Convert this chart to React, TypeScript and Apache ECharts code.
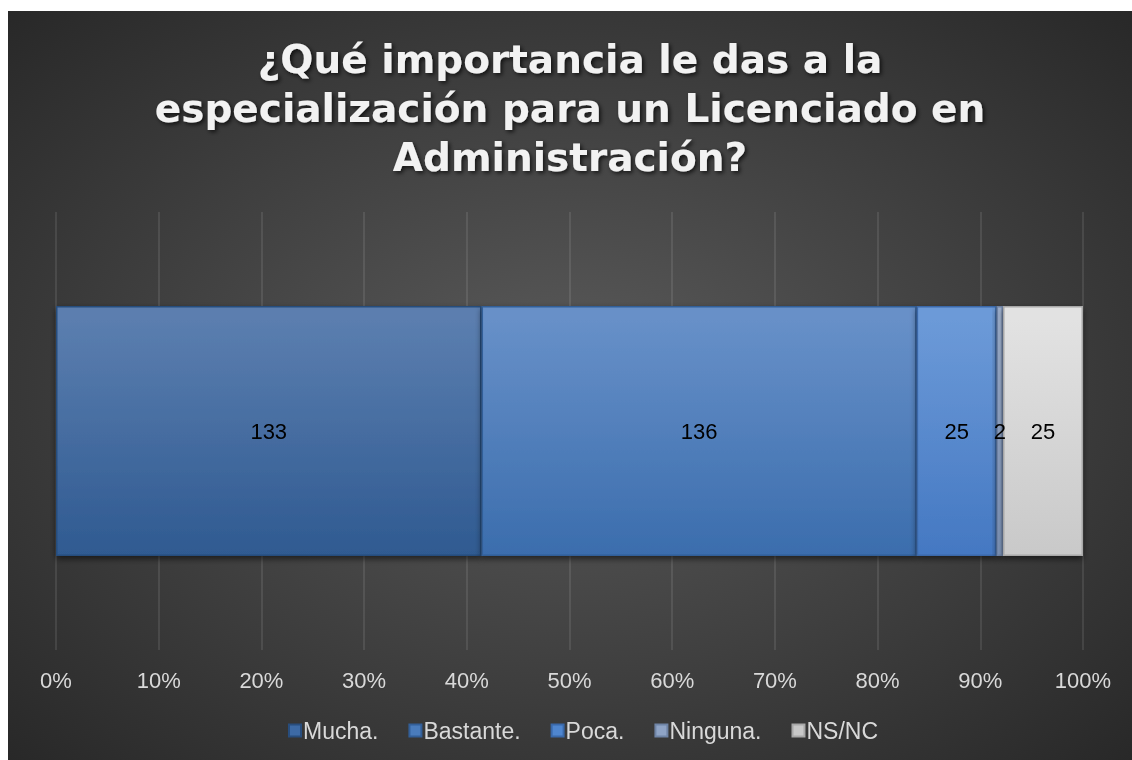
import React, { useEffect, useRef } from "react";
import * as echarts from "echarts";

const titleLines = [
  "¿Qué importancia le das a la",
  "especialización para un Licenciado en",
  "Administración?",
];
const category = ["Importancia"];
const seriesNames = ["Mucha.", "Bastante.", "Poca.", "Ninguna.", "NS/NC"];
const seriesCounts = [133, 136, 25, 2, 25];
const seriesTop = ["#5b7eaf", "#6790c8", "#6c9ad8", "#a2b3cf", "#e2e2e2"];
const seriesBottom = ["#2f5a91", "#3b6dad", "#4478c2", "#7f95b9", "#c9c9c9"];
const seriesBorder = ["#284d7d", "#335f98", "#3a69aa", "#6f84a6", "#a8a8a8"];
const legendColors = ["#3d6aa5", "#4a7cbc", "#4f86cf", "#8fa4c6", "#c8c8c8"];
const tickValues = [0, 10, 20, 30, 40, 50, 60, 70, 80, 90, 100];

export default function App() {
  const ref = useRef<HTMLDivElement>(null);
  useEffect(() => {
    if (!ref.current) return;
    const chart = echarts.init(ref.current, null, { renderer: "svg" });
    const total = seriesCounts.reduce((a, b) => a + b, 0);
    const series = seriesNames.map((name, i) => ({
      name,
      type: "bar",
      stack: "total",
      barWidth: 250,
      data: [(seriesCounts[i] / total) * 100],
      itemStyle: {
        color: new echarts.graphic.LinearGradient(0, 0, 0, 1, [
          { offset: 0, color: seriesTop[i] },
          { offset: 0.05, color: seriesTop[i] },
          { offset: 1, color: seriesBottom[i] },
        ]),
        borderColor: seriesBorder[i],
        borderWidth: 1.5,
        shadowColor: "rgba(0,0,0,0.55)",
        shadowBlur: 6,
        shadowOffsetY: 3,
      },
      label: {
        show: true,
        position: "inside",
        color: "#000",
        fontSize: 22,
        fontFamily: "Liberation Sans, Arial, sans-serif",
        formatter: () => String(seriesCounts[i]),
      },
      emphasis: { disabled: true },
    }));
    chart.setOption({
      animation: false,
      backgroundColor: new echarts.graphic.RadialGradient(0.5, 0.5, 0.75, [
        { offset: 0, color: "#5b5b5b" },
        { offset: 1, color: "#252525" },
      ]),
      title: {
        text: titleLines.join("\n"),
        left: "center",
        top: 19,
        textStyle: {
          color: "#f2f2f2",
          fontSize: 39,
          fontWeight: "bold",
          fontFamily: "DejaVu Sans, sans-serif",
          lineHeight: 49,
          align: "center",
          textShadowColor: "rgba(0,0,0,0.7)",
          textShadowBlur: 4,
          textShadowOffsetX: 2,
          textShadowOffsetY: 2,
        },
      },
      legend: {
        data: seriesNames.map((n, i) => ({
          name: n,
          itemStyle: { color: legendColors[i] },
        })),
        bottom: 13,
        left: 275,
        icon: "rect",
        itemWidth: 12,
        itemHeight: 12,
        itemGap: 30,
        textStyle: {
          color: "#d9d9d9",
          fontSize: 23,
          fontFamily: "Liberation Sans, Arial, sans-serif",
          padding: [0, 0, 0, -3],
        },
      },
      grid: { left: 48, right: 49, top: 201, bottom: 110, containLabel: false },
      xAxis: {
        type: "value",
        min: tickValues[0],
        max: tickValues[tickValues.length - 1],
        interval: 10,
        axisLine: { show: false },
        axisTick: { show: false },
        splitLine: { lineStyle: { color: "rgba(255,255,255,0.13)", width: 1.5 } },
        axisLabel: {
          color: "#d9d9d9",
          fontSize: 22,
          margin: 19,
          fontFamily: "Liberation Sans, Arial, sans-serif",
          formatter: "{value}%",
        },
      },
      yAxis: {
        type: "category",
        data: category,
        axisLine: { show: false },
        axisTick: { show: false },
        axisLabel: { show: false },
      },
      series,
    });
    return () => chart.dispose();
  }, []);
  return (
    <div
      ref={ref}
      style={{ position: "fixed", left: 8, top: 11, width: 1124, height: 749 }}
    />
  );
}
